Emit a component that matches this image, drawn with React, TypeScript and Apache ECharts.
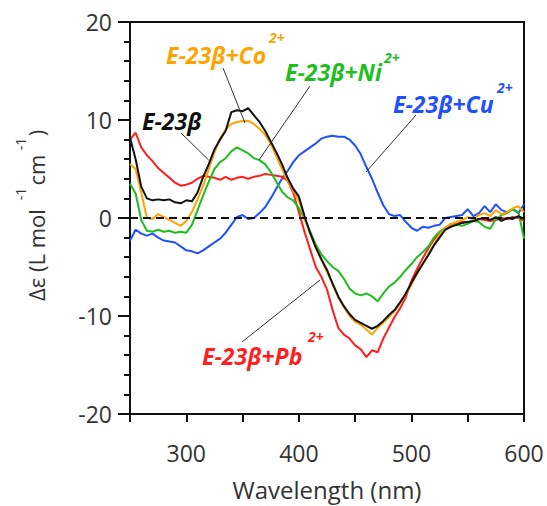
import React, { useEffect, useRef } from "react";
import * as echarts from "echarts";

const wavelengths: number[] = [];
for (let w = 250; w <= 600; w += 5) wavelengths.push(w);

const e23b = [8.2, 6.0, 3.2, 2.0, 1.8, 1.9, 1.8, 1.9, 1.6, 1.5, 1.8, 1.7, 2.6, 4.2, 5.5, 7.0, 8.0, 8.9, 10.8, 11.0, 10.9, 11.2, 10.5, 9.8, 8.9, 7.8, 6.7, 5.5, 4.1, 3.0, 2.2, 0.2, -1.5, -3.0, -4.2, -5.3, -6.7, -8.0, -9.0, -9.8, -10.4, -10.7, -11.0, -11.3, -11.0, -10.5, -9.9, -9.4, -8.6, -7.7, -6.6, -5.6, -4.7, -3.8, -2.8, -2.0, -1.2, -0.9, -0.7, -0.5, -0.4, -0.3, -0.1, 0.0, -0.2, 0.1, -0.3, 0.0, -0.1, 0.2, -0.1];
const e23bCo = [5.5, 5.0, 2.6, 0.0, -0.1, 0.4, 0.1, -0.2, -0.5, -0.8, -0.3, 0.6, 1.9, 3.3, 5.0, 6.7, 8.1, 9.0, 9.6, 9.8, 9.9, 9.9, 9.6, 9.1, 8.5, 7.6, 6.3, 5.0, 3.8, 2.8, 1.8, 0.0, -1.6, -3.0, -4.3, -5.5, -6.8, -8.1, -9.1, -10.0, -10.6, -10.9, -11.4, -11.9, -11.2, -10.7, -10.1, -9.5, -8.7, -7.8, -6.8, -5.7, -4.7, -3.7, -2.7, -1.7, -1.0, -0.6, -0.4, -0.2, 0.1, -0.1, 0.3, 0.5, 0.2, 0.8, 0.4, 0.6, 1.0, 1.2, 0.6];
const e23bNi = [3.5, 2.5, -0.2, -1.3, -1.4, -1.2, -1.4, -1.3, -1.5, -1.4, -1.5, -0.7, 0.8, 2.3, 3.7, 5.0, 5.7, 6.1, 6.8, 7.2, 6.9, 6.6, 6.1, 5.9, 5.5, 4.7, 3.7, 2.7, 2.1, 1.8, 1.0, -0.1, -1.4, -2.7, -3.7, -4.4, -5.0, -5.4, -6.2, -7.2, -7.7, -7.9, -7.7, -8.0, -8.5, -7.7, -7.0, -6.6, -6.0, -5.3, -4.7, -4.0, -3.5, -2.9, -2.0, -1.4, -1.0, -0.6, -0.7, -0.8, -0.6, -0.3, -0.4, -0.9, -1.1, -0.1, 0.3, 0.5, 0.9, 0.6, -2.1];
const e23bPb = [8.0, 8.7, 7.2, 6.4, 5.8, 5.1, 4.6, 4.1, 3.6, 3.3, 3.4, 3.6, 4.0, 4.3, 4.2, 4.1, 3.9, 4.2, 3.9, 4.1, 4.2, 4.0, 4.2, 4.3, 4.5, 4.4, 4.3, 4.2, 3.8, 2.6, 0.6, -1.4, -3.2, -5.0, -6.0, -7.3, -9.4, -11.2, -11.9, -12.3, -13.0, -13.4, -14.2, -13.5, -13.7, -12.3, -11.2, -10.1, -9.2, -8.1, -6.4, -5.2, -4.1, -3.1, -2.2, -1.5, -1.0, -0.8, -0.6, -0.4, -0.4, -0.3, -0.1, -0.2, -0.3, -0.2, 0.0, -0.1, 0.1, 0.0, -0.3];
const e23bCu = [-2.3, -1.2, -1.6, -1.8, -1.6, -2.0, -2.3, -2.4, -2.5, -2.9, -3.3, -3.4, -3.6, -3.3, -2.9, -2.5, -2.1, -1.5, -0.7, 0.1, 0.3, -0.1, 0.0, 0.5, 1.1, 2.0, 3.0, 4.0, 4.8, 5.7, 6.4, 6.8, 7.2, 7.6, 8.1, 8.3, 8.4, 8.3, 8.3, 8.0, 7.4, 6.5, 5.2, 4.0, 2.6, 1.3, 0.4, 0.2, 0.3, -0.4, -1.0, -1.3, -0.9, -1.0, -0.8, -0.7, 0.0, 0.1, 0.2, 0.3, 0.9, 0.2, 0.5, 1.2, 0.6, 1.4, 0.8, 0.6, 0.9, 0.5, 1.4];

const xTickLabels = [300, 400, 500, 600];

const FONT = "'Open Sans', 'Noto Sans', sans-serif";
const COLORS = {
  black: "#111111",
  orange: "#FFA300",
  green: "#1EBE1E",
  red: "#FF1E1E",
  blue: "#1E50FF",
};

function pairs(vals: number[]) {
  return wavelengths.map((w, i) => [w, vals[i]]);
}

function label(text: string, sup: string, x: number, cy: number, supX: number, supCy: number, color: string) {
  const out: any[] = [
    {
      type: "text",
      x,
      y: cy,
      z: 10,
      style: {
        text,
        fill: color,
        font: `italic bold 23px ${FONT}`,
        verticalAlign: "middle",
        align: "left",
      },
    },
  ];
  if (sup) {
    out.push({
      type: "text",
      x: supX,
      y: supCy,
      z: 10,
      style: {
        text: sup,
        fill: color,
        font: `italic bold 14px ${FONT}`,
        verticalAlign: "middle",
        align: "left",
      },
    });
  }
  return out;
}

function leader(x1: number, y1: number, x2: number, y2: number) {
  return {
    type: "line",
    z: 10,
    shape: { x1, y1, x2, y2 },
    style: { stroke: "#333", lineWidth: 1 },
  };
}

function yTitlePiece(text: string, localX: number, localY: number, size: number) {
  return {
    type: "text",
    x: localX,
    y: localY,
    style: {
      text,
      fill: "#333",
      font: `${size}px ${FONT}`,
      align: "center",
      verticalAlign: "middle",
    },
  };
}

export default function App() {
  const ref = useRef<HTMLDivElement>(null);
  useEffect(() => {
    if (!ref.current) return;
    const chart = echarts.init(ref.current, null, { renderer: "svg" });
    const lineSeries = (name: string, vals: number[], color: string) => ({
      name,
      type: "line",
      data: pairs(vals),
      showSymbol: false,
      symbol: "none",
      lineStyle: { color, width: 2 },
      z: 3,
    });
    chart.setOption({
      animation: false,
      grid: {
        left: 130,
        right: 23,
        top: 22,
        bottom: 90,
        show: true,
        borderColor: "#111",
        borderWidth: 2,
        backgroundColor: "transparent",
      },
      xAxis: {
        type: "value",
        min: 250,
        max: 600,
        interval: 50,
        axisLine: { onZero: false, lineStyle: { color: "#111", width: 2 } },
        axisTick: { length: 8, lineStyle: { color: "#111", width: 2 } },
        axisLabel: {
          formatter: (v: number) => (xTickLabels.includes(v) ? String(v) : ""),
          fontSize: 23,
          color: "#333",
          fontFamily: FONT,
          margin: 27,
          showMinLabel: true,
          showMaxLabel: true,
        },
        splitLine: { show: false },
        name: "Wavelength (nm)",
        nameLocation: "middle",
        nameGap: 63,
        nameTextStyle: { fontSize: 24, color: "#333", fontFamily: FONT },
      },
      yAxis: {
        type: "value",
        min: -20,
        max: 20,
        interval: 10,
        axisLine: { show: true, onZero: false, lineStyle: { color: "#111", width: 2 } },
        axisTick: { show: true, length: 12, lineStyle: { color: "#111", width: 2 } },
        minorTick: { show: true, splitNumber: 5, length: 6, lineStyle: { color: "#111", width: 2 } },
        axisLabel: { fontSize: 23, color: "#333", fontFamily: FONT, margin: 18 },
        splitLine: { show: false },
        minorSplitLine: { show: false },
      },
      series: [
        {
          name: "zero",
          type: "line",
          data: [],
          showSymbol: false,
          symbol: "none",
          markLine: {
            silent: true,
            symbol: "none",
            label: { show: false },
            lineStyle: { color: "#111", width: 2.2, type: [8, 5] },
            data: [{ yAxis: 0 }],
          },
          z: 2,
        },
        lineSeries("E-23β+Cu2+", e23bCu, COLORS.blue),
        lineSeries("E-23β+Pb2+", e23bPb, COLORS.red),
        lineSeries("E-23β+Ni2+", e23bNi, COLORS.green),
        lineSeries("E-23β+Co2+", e23bCo, COLORS.orange),
        lineSeries("E-23β", e23b, COLORS.black),
      ],
      graphic: [
        {
          type: "group",
          x: 36,
          y: 0,
          rotation: Math.PI / 2,
          children: [
            yTitlePiece("Δε (L mol", -255, 0, 22),
            yTitlePiece("-1", -194, -16, 14),
            yTitlePiece("cm", -170, 0, 22),
            yTitlePiece("-1", -144, -16, 14),
            yTitlePiece(")", -133, 0, 22),
          ],
        },
        leader(181, 133, 208.6, 160),
        leader(223, 68, 245, 123),
        leader(310, 86, 259, 160),
        leader(416, 115, 366, 172),
        leader(242, 342, 320, 280),
        ...label("E-23β", "", 142, 121, 0, 0, COLORS.black),
        ...label("E-23β+Co", "2+", 166, 55, 269, 37, COLORS.orange),
        ...label("E-23β+Ni", "2+", 285, 72, 384, 57, COLORS.green),
        ...label("E-23β+Cu", "2+", 393, 104, 497, 87, COLORS.blue),
        ...label("E-23β+Pb", "2+", 202, 356, 308, 336, COLORS.red),
      ],
    });
    return () => chart.dispose();
  }, []);
  return (
    <div
      ref={ref}
      style={{ position: "absolute", left: 0, top: 0, width: 547, height: 506 }}
    />
  );
}
